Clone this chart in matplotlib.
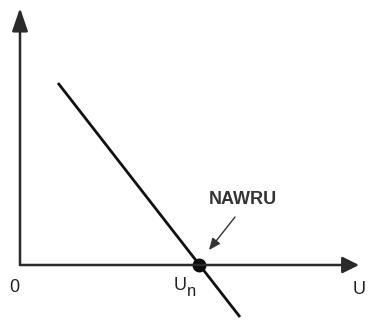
import matplotlib
matplotlib.use("Agg")
import matplotlib.pyplot as plt

plt.rcParams['font.family'] = ['Liberation Sans', 'DejaVu Sans']

# Phillips-type relation: inflation change vs. unemployment
line_u = [3.8, 22.0]
line_y = [18.2, -5.2]
nawru_u = 17.9
nawru_y = 0.0
x_axis_end = 33.9
y_axis_end = 25.7
label_axis_x = "U"
label_origin = "0"
label_nawru = "NAWRU"

fig = plt.figure(figsize=(3.68, 3.2), dpi=100)
ax = fig.add_axes([0, 0, 1, 1])
ax.set_xlim(-2.0, 34.8)
ax.set_ylim(-5.5, 26.5)
ax.axis("off")

# axes with arrow heads
ax.annotate("", xy=(x_axis_end, 0), xytext=(0, 0),
            arrowprops=dict(arrowstyle="-|>,head_length=1.0,head_width=0.5",
                            color="#2a2a2a", lw=1.8, shrinkA=0, shrinkB=0))
ax.annotate("", xy=(0, y_axis_end), xytext=(0, 0),
            arrowprops=dict(arrowstyle="-|>,head_length=1.4,head_width=0.48",
                            color="#2a2a2a", lw=1.8, shrinkA=0, shrinkB=0))

# the curve
ax.plot(line_u, line_y, color="#111111", lw=2.0, solid_capstyle="butt")
ax.plot([nawru_u], [nawru_y], "o", color="#0a0a0a", ms=9)

# labels
ax.text(-0.6, -1.4, label_origin, fontsize=13, ha="center", va="top", color="#222222")
ax.text(15.4, -2.5, "U", fontsize=13, ha="left", va="baseline", color="#222222")
ax.text(16.7, -3.1, "n", fontsize=12, ha="left", va="baseline", color="#222222")
ax.text(33.9, -1.6, label_axis_x, fontsize=13, ha="center", va="top", color="#222222")
ax.text(22.3, 6.6, label_nawru, fontsize=13, fontweight="bold", ha="center",
        va="center", color="#333333")
ax.annotate("", xy=(nawru_u + 1.0, 1.5), xytext=(21.5, 4.8),
            arrowprops=dict(arrowstyle="-|>,head_length=0.7,head_width=0.3",
                            color="#333333", lw=1.0, shrinkA=0, shrinkB=0))

fig.savefig("out.png", dpi=100, facecolor="white")
